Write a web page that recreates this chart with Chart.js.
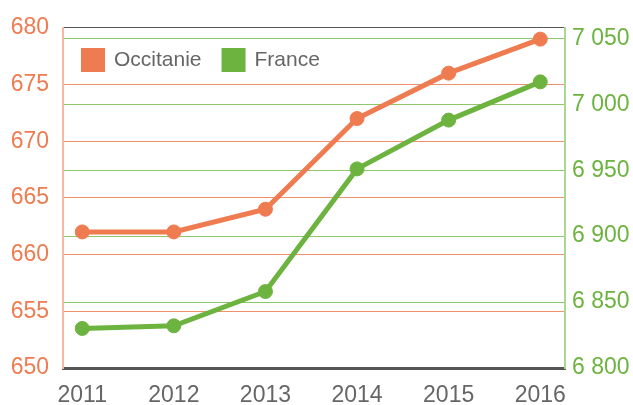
<!DOCTYPE html>
<html>
<head>
<meta charset="utf-8">
<script src="https://cdn.jsdelivr.net/npm/chart.js@4/dist/chart.umd.min.js"></script>
<style>
  html, body { margin: 0; padding: 0; background: #fff; }
  #wrap { width: 633px; height: 405px; }
</style>
</head>
<body>
<div id="wrap"><canvas id="grafico"></canvas></div>
<script>
// données
const annees = [2011, 2012, 2013, 2014, 2015, 2016];
const occitanie = [662, 662, 664, 672, 676, 679];
const france = [6830, 6832, 6858, 6951, 6988, 7017];
const ticksGauche = [650, 655, 660, 665, 670, 675, 680];
const ticksDroite = [6800, 6850, 6900, 6950, 7000, 7050];

const orange = '#EF7B50';
const vert = '#6DB33F';
const gris = '#666666';
const police = 'Liberation Sans, Arial, sans-serif';

// légende dessinée dans la zone du graphique
const legendeInterne = {
  id: 'legendeInterne',
  afterDraw(chart) {
    const ctx = chart.ctx;
    let x = 81;
    ctx.save();
    ctx.font = '21px ' + police;
    ctx.textBaseline = 'middle';
    chart.data.datasets.forEach(ds => {
      ctx.fillStyle = ds.borderColor;
      ctx.fillRect(x, 48, 24, 24);
      ctx.fillStyle = gris;
      ctx.fillText(ds.label, x + 33, 60);
      x += 33 + ctx.measureText(ds.label).width + 20;
    });
    ctx.restore();
  }
};

const format = v => String(v).replace(/\B(?=(\d{3})+(?!\d))/g, '\u00a0');

new Chart(document.getElementById('grafico'), {
  type: 'line',
  data: {
    datasets: [
      {
        label: 'Occitanie',
        data: annees.map((a, i) => ({ x: a, y: occitanie[i] })),
        yAxisID: 'y',
        borderColor: orange,
        backgroundColor: orange,
        borderWidth: 5,
        pointRadius: 7,
        pointBorderWidth: 1,
        tension: 0
      },
      {
        label: 'France',
        data: annees.map((a, i) => ({ x: a, y: france[i] })),
        yAxisID: 'y2',
        borderColor: vert,
        backgroundColor: vert,
        borderWidth: 5,
        pointRadius: 7,
        pointBorderWidth: 1,
        tension: 0
      }
    ]
  },
  plugins: [legendeInterne],
  options: {
    responsive: true,
    maintainAspectRatio: false,
    animation: false,
    layout: { padding: { top: 25, left: 0, right: 0, bottom: 0 } },
    plugins: {
      legend: { display: false },
      tooltip: { enabled: false }
    },
    scales: {
      x: {
        type: 'linear',
        min: 2010.79,
        max: 2016.27,
        afterBuildTicks: s => { s.ticks = annees.map(v => ({ value: v })); },
        afterFit: s => { s.height = 37; },
        grid: { display: false, drawTicks: false },
        border: { color: '#555', width: 3 },
        ticks: {
          color: gris,
          padding: 14,
          font: { family: police, size: 23 },
          callback: v => String(v)
        }
      },
      y: {
        position: 'left',
        min: 650,
        max: 680,
        afterBuildTicks: s => { s.ticks = ticksGauche.map(v => ({ value: v })); },
        afterFit: s => { s.width = 63; },
        grid: {
          drawTicks: false,
          color: c => (c.tick && c.tick.value === 680 ? '#555' : '#F0916C'),
          lineWidth: 1
        },
        border: { color: '#F7B9A1', width: 2 },
        ticks: {
          color: orange,
          padding: 14,
          font: { family: police, size: 23 }
        }
      },
      y2: {
        position: 'right',
        min: 6800,
        max: 7058,
        afterBuildTicks: s => { s.ticks = ticksDroite.map(v => ({ value: v })); },
        afterFit: s => { s.width = 68; },
        grid: { drawTicks: false, color: '#8DC76A', lineWidth: 1 },
        border: { color: '#A9D88E', width: 2 },
        ticks: {
          color: vert,
          padding: 7,
          font: { family: police, size: 23 },
          callback: v => format(v)
        }
      }
    }
  }
});
</script>
</body>
</html>
